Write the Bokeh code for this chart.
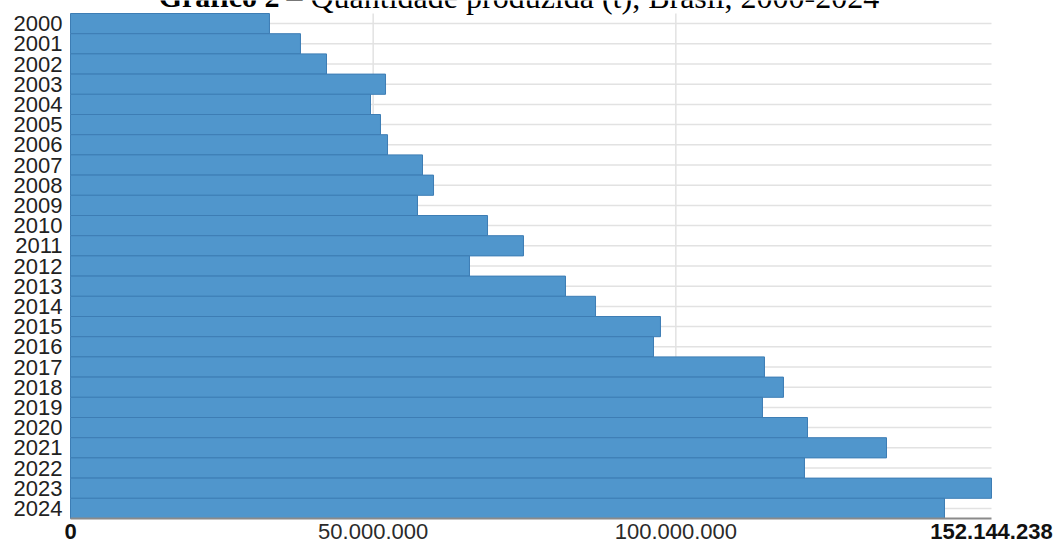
from bokeh.plotting import figure
from bokeh.models import ColumnDataSource, Range1d, FixedTicker, Label
from bokeh.embed import file_html
from bokeh.resources import INLINE

# ---- data ----
years = [str(y) for y in range(2000, 2025)]
production_t = [
    32870000, 37990000, 42290000, 52040000, 49560000,
    51210000, 52370000, 58150000, 59970000, 57320000,
    68890000, 74830000, 65910000, 81770000, 86730000,
    97460000, 96310000, 114640000, 117780000, 114310000,
    121750000, 134800000, 121250000, 152144238, 144380000,
]
x_ticks = [0, 50000000, 100000000, 152144238]
x_ticks_bold = [True, False, False, True]
title_bold = "Gráfico 2"
title_rest = "– Quantidade produzida (t), Brasil, 2000-2024"


def fmt_br(v):
    return f"{int(v):,}".replace(",", ".")


idx = list(range(len(years)))
n = len(years)
x_max = max(x_ticks)

# ---- layout geometry (pixels) ----
W, H = 1061, 545
bars_left_px, bars_right_px = 70, 991
bars_top_px, bars_bottom_px = 13, 518
frame_left_px = 62
unit_per_px = x_max / (bars_right_px - bars_left_px)
row_px = (bars_bottom_px - bars_top_px) / n

top_edge = -0.5
bottom_edge = n - 0.5
x_start = -(bars_left_px - frame_left_px) * unit_per_px
x_end = (W - bars_left_px) * unit_per_px
y_top = top_edge - bars_top_px / row_px
y_bottom = bottom_edge + (H - bars_bottom_px) / row_px

source = ColumnDataSource(data=dict(pos=idx, year=years, value=production_t))

p = figure(
    width=W, height=H,
    y_range=Range1d(y_bottom, y_top),
    x_range=Range1d(x_start, x_end),
    output_backend="svg", toolbar_location=None,
    min_border_left=frame_left_px, min_border_right=0,
    min_border_top=0, min_border_bottom=0,
)
p.outline_line_color = None
p.background_fill_color = "white"
p.border_fill_color = "white"
p.grid.visible = False
p.xaxis.visible = False

# grid lines (drawn only over the bar area)
grid_color = "#e2e2e2"
p.segment(x0=[0] * n, x1=[x_max] * n, y0=idx, y1=idx,
          line_color=grid_color, line_width=1.5, level="underlay")
inner_ticks = x_ticks[1:-1]
p.segment(x0=inner_ticks, x1=inner_ticks, y0=[top_edge] * len(inner_ticks),
          y1=[bottom_edge] * len(inner_ticks),
          line_color=grid_color, line_width=1.5, level="underlay")

# bars
p.hbar(y="pos", right="value", left=0, height=1.0, source=source,
       fill_color="#5096cc", line_color="#3d7db4", line_width=1)

# x axis line
p.segment(x0=[0], x1=[x_max], y0=[bottom_edge], y1=[bottom_edge],
          line_color="#8a8a8a", line_width=2)

# y axis (years)
p.yaxis.ticker = FixedTicker(ticks=idx)
p.yaxis.major_label_overrides = {i: y for i, y in zip(idx, years)}
p.yaxis.major_label_text_font = "Liberation Sans"
p.yaxis.major_label_text_font_size = "22px"
p.yaxis.major_label_text_color = "#222222"
p.yaxis.major_label_standoff = 0
p.yaxis.major_tick_out = 0
p.yaxis.major_tick_in = 0
p.yaxis.minor_tick_out = 0
p.yaxis.minor_tick_in = 0
p.yaxis.axis_line_color = None

# x tick labels
for t, bold in zip(x_ticks, x_ticks_bold):
    p.add_layout(Label(x=t, y=bottom_edge, text=fmt_br(t), text_align="center",
                       text_baseline="top", y_offset=-5,
                       text_font="Liberation Sans",
                       text_font_style="bold" if bold else "normal",
                       text_font_size="22px",
                       text_color="#111111" if bold else "#2a2a2a"))

# title (partially cut at the top, as in the reference)
p.add_layout(Label(x=0, y=top_edge, x_offset=209, y_offset=17, text=title_bold,
                   text_align="right", text_baseline="alphabetic",
                   text_font="Liberation Serif", text_font_style="bold",
                   text_font_size="30px", text_color="black"))
p.add_layout(Label(x=0, y=top_edge, x_offset=216, y_offset=17, text=title_rest,
                   text_align="left", text_baseline="alphabetic",
                   text_font="Liberation Serif", text_font_size="32px",
                   text_color="black"))

open("out.html", "w").write(file_html(p, INLINE))
